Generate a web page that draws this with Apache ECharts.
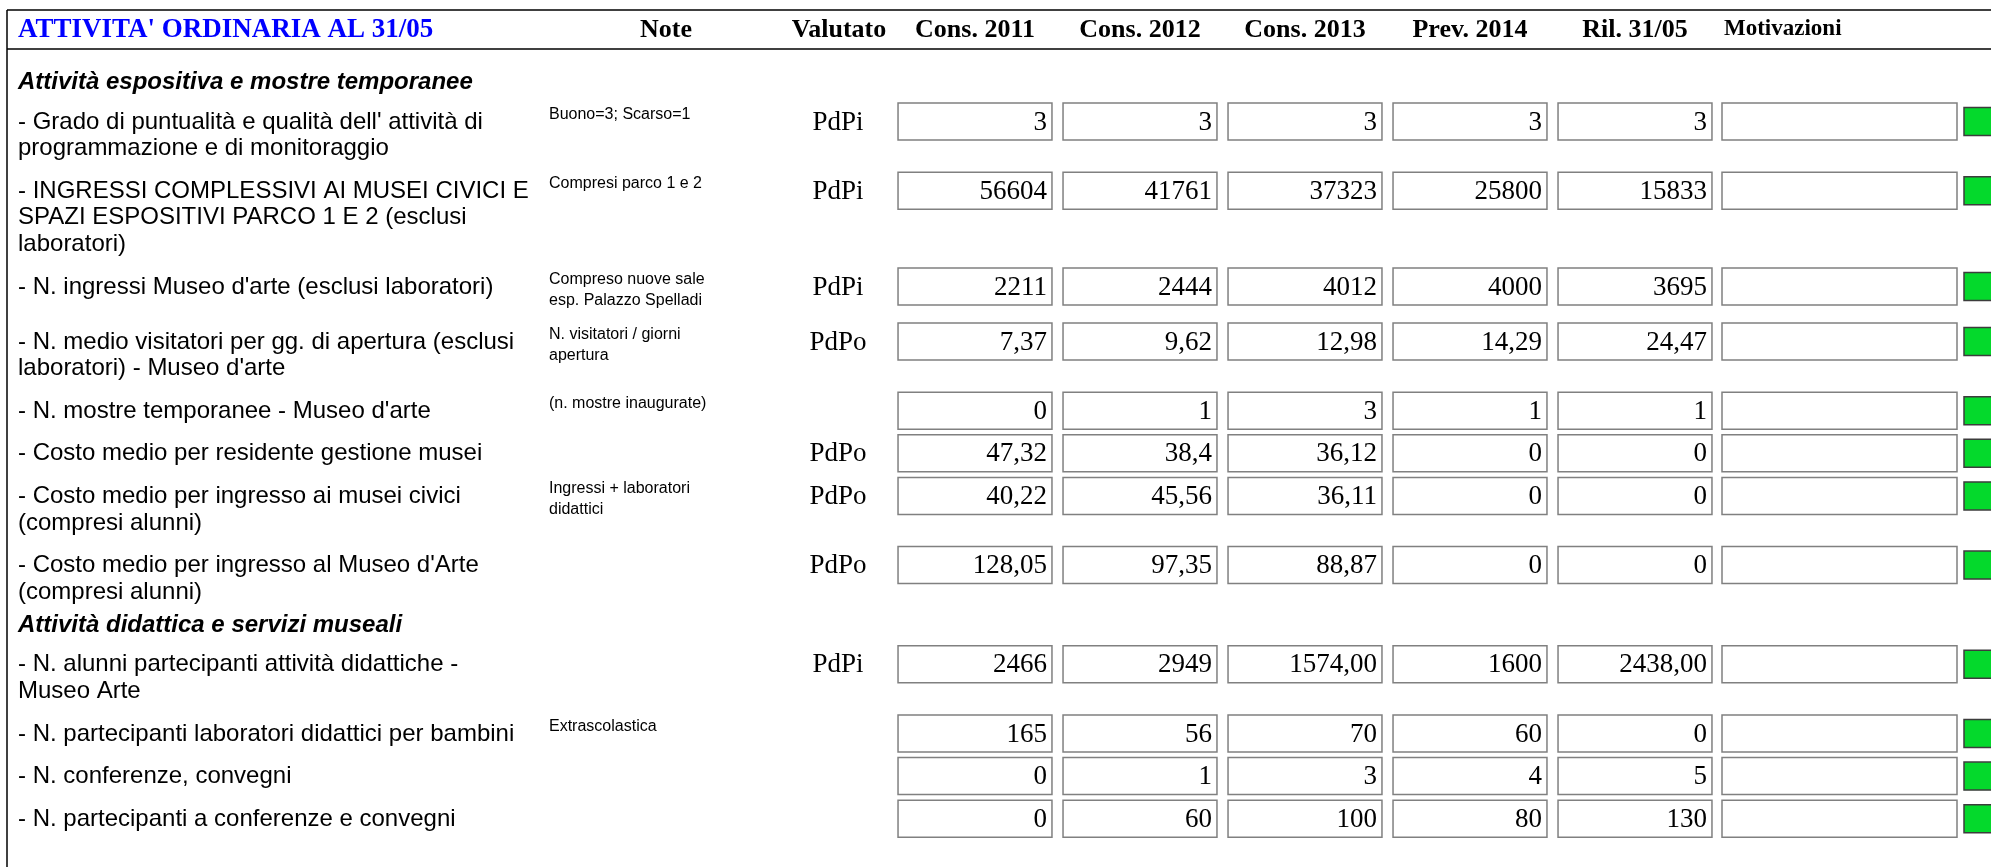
<!DOCTYPE html>
<html>
<head>
<meta charset="utf-8">
<title>Attività ordinaria al 31/05</title>
<script src="https://cdn.jsdelivr.net/npm/echarts@6/dist/echarts.min.js"></script>
<style>
    html, body { margin: 0; padding: 0; background: #fff; }
    #main { width: 1991px; height: 867px; }
</style>
</head>
<body>
<div id="main"></div>
<script>
    // testata e colonne
    var title = "ATTIVITA' ORDINARIA AL 31/05";
    var colHeaders = ['Cons. 2011', 'Cons. 2012', 'Cons. 2013', 'Prev. 2014', 'Ril. 31/05'];
    var sections = ['Attività espositiva e mostre temporanee', 'Attività didattica e servizi museali'];
    var rowSection = [0, 0, 0, 0, 0, 0, 0, 0, 1, 1, 1, 1];
    var rowLabels = [
        ["- Grado di puntualità e qualità dell' attività di", 'programmazione e di monitoraggio'],
        ['- INGRESSI COMPLESSIVI AI MUSEI CIVICI E', 'SPAZI ESPOSITIVI PARCO 1 E 2 (esclusi', 'laboratori)'],
        ["- N. ingressi Museo d'arte (esclusi laboratori)"],
        ['- N. medio visitatori per gg. di apertura (esclusi', "laboratori) - Museo d'arte"],
        ["- N. mostre temporanee - Museo d'arte"],
        ['- Costo medio per residente gestione musei'],
        ['- Costo medio per ingresso ai musei civici', '(compresi alunni)'],
        ["- Costo medio per ingresso al Museo d'Arte", '(compresi alunni)'],
        ['- N. alunni partecipanti attività didattiche -', 'Museo Arte'],
        ['- N. partecipanti laboratori didattici per bambini'],
        ['- N. conferenze, convegni'],
        ['- N. partecipanti a conferenze e convegni']
    ];
    var rowNotes = [
        ['Buono=3; Scarso=1'],
        ['Compresi parco 1 e 2'],
        ['Compreso nuove sale', 'esp. Palazzo Spelladi'],
        ['N. visitatori / giorni', 'apertura'],
        ['(n. mostre inaugurate)'],
        [],
        ['Ingressi + laboratori', 'didattici'],
        [],
        [],
        ['Extrascolastica'],
        [],
        []
    ];
    var valutato = ['PdPi', 'PdPi', 'PdPi', 'PdPo', '', 'PdPo', 'PdPo', 'PdPo', 'PdPi', '', '', ''];
    // valori come scritti nei campi
    var cons2011 = ['3', '56604', '2211', '7,37', '0', '47,32', '40,22', '128,05', '2466', '165', '0', '0'];
    var cons2012 = ['3', '41761', '2444', '9,62', '1', '38,4', '45,56', '97,35', '2949', '56', '1', '60'];
    var cons2013 = ['3', '37323', '4012', '12,98', '3', '36,12', '36,11', '88,87', '1574,00', '70', '3', '100'];
    var prev2014 = ['3', '25800', '4000', '14,29', '1', '0', '0', '0', '1600', '60', '4', '80'];
    var ril3105 = ['3', '15833', '3695', '24,47', '1', '0', '0', '0', '2438,00', '0', '5', '130'];
    var yearCols = [cons2011, cons2012, cons2013, prev2014, ril3105];

    var SANS = '"Liberation Sans", Arial, sans-serif';
    var SERIF = '"Liberation Serif", "Times New Roman", serif';

    // altezza righe calcolata dal numero di righe di testo
    var LINE = 26.6, NOTE_LINE = 19.5, PAD = 16;
    var rowTop = [], secTitleY = [];
    var y = 70.5, lastSec = -1;
    rowLabels.forEach(function (lines, i) {
        if (rowSection[i] !== lastSec) {
            secTitleY.push(y + 12);
            y += 30;
            lastSec = rowSection[i];
        }
        rowTop.push(y);
        y += Math.max(lines.length * LINE, rowNotes[i].length * NOTE_LINE) + PAD;
    });

    function txt(x, y, text, font, align) {
        return {
            type: 'text', x: x, y: y,
            style: {
                text: text, font: font, fill: '#000',
                align: align || 'left', textAlign: align || 'left',
                verticalAlign: 'middle', textVerticalAlign: 'middle'
            }
        };
    }

    var rowData = rowLabels.map(function (l, i) { return [0, rowTop[i]]; });
    var cellData = [];
    yearCols.forEach(function (col, c) {
        col.forEach(function (v, r) { cellData.push([c, rowTop[r] + 21, r]); });
    });

    var chart = echarts.init(document.getElementById('main'));
    var graphics = [
        { type: 'line', shape: { x1: 7, y1: 10, x2: 1991, y2: 10 }, style: { stroke: '#000', lineWidth: 1.5 } },
        { type: 'line', shape: { x1: 7, y1: 49, x2: 1991, y2: 49 }, style: { stroke: '#000', lineWidth: 1.5 } },
        { type: 'line', shape: { x1: 7, y1: 10, x2: 7, y2: 867 }, style: { stroke: '#000', lineWidth: 1.5 } },
        {
            type: 'text', x: 18, y: 30,
            style: { text: title, font: 'bold 27px ' + SERIF, fill: '#0000ff', verticalAlign: 'middle', textVerticalAlign: 'middle' }
        },
        txt(666, 30, 'Note', 'bold 26px ' + SERIF, 'center'),
        txt(839, 30, 'Valutato', 'bold 26px ' + SERIF, 'center'),
        txt(1724, 29, 'Motivazioni', 'bold 23px ' + SERIF, 'left')
    ];
    sections.forEach(function (s, k) {
        graphics.push(txt(18, secTitleY[k], s, 'italic bold 24px ' + SANS, 'left'));
    });

    var option = {
        animation: false,
        graphic: graphics,
        grid: { left: 892.5, right: 273.5, top: 0, bottom: 0 },
        xAxis: {
            type: 'category',
            position: 'top',
            data: colHeaders,
            offset: -30,
            axisLine: { show: false },
            axisTick: { show: false },
            splitLine: { show: false },
            axisLabel: {
                margin: 0,
                verticalAlign: 'middle',
                color: '#000',
                fontFamily: SERIF,
                fontWeight: 'bold',
                fontSize: 26
            }
        },
        yAxis: { type: 'value', min: 0, max: 867, inverse: true, show: false },
        series: [{
            type: 'custom',
            name: 'righe',
            clip: false,
            data: rowData,
            renderItem: function (params, api) {
                var i = params.dataIndex;
                var top = api.coord([0, api.value(1)])[1];
                var children = [];
                rowLabels[i].forEach(function (line, k) {
                    children.push(txt(18, top + 21.5 + k * LINE, line, '24px ' + SANS));
                });
                rowNotes[i].forEach(function (line, k) {
                    children.push(txt(549, top + 14 + k * 21, line, '16px ' + SANS));
                });
                if (valutato[i]) children.push(txt(838, top + 22, valutato[i], '27px ' + SERIF, 'center'));
                children.push({
                    type: 'rect', shape: { x: 1722, y: top + 2.5, width: 235, height: 37 },
                    style: { fill: '#fff', stroke: '#808080', lineWidth: 1.5 }
                });
                children.push({
                    type: 'rect', shape: { x: 1964, y: top + 7, width: 32, height: 28 },
                    style: { fill: '#04d92c', stroke: '#3c3c3c', lineWidth: 1.5 }
                });
                return { type: 'group', children: children };
            }
        }, {
            type: 'custom',
            name: 'valori',
            clip: false,
            data: cellData,
            renderItem: function (params, api) {
                var pt = api.coord([api.value(0), api.value(1)]);
                var w = api.size([1, 0])[0] * 0.933;
                var text = yearCols[api.value(0)][api.value(2)];
                return {
                    type: 'group',
                    children: [{
                        type: 'rect',
                        shape: { x: pt[0] - w / 2, y: pt[1] - 18.5, width: w, height: 37 },
                        style: { fill: '#fff', stroke: '#808080', lineWidth: 1.5 }
                    }, txt(pt[0] + w / 2 - 5, pt[1] + 1, text, '27px ' + SERIF, 'right')]
                };
            }
        }]
    };
    chart.setOption(option);
</script>
</body>
</html>
